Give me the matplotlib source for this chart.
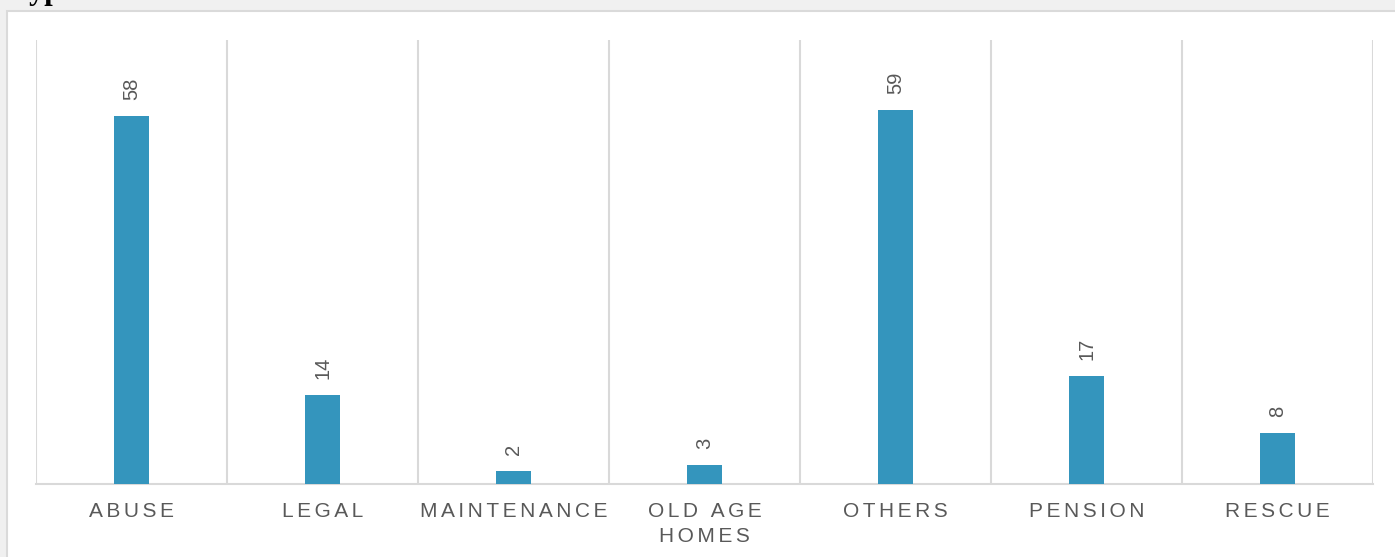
import numpy as np
import matplotlib.pyplot as plt
from matplotlib.patches import Rectangle

categories = ["ABUSE", "LEGAL", "MAINTENANCE", "OLD AGE\nHOMES", "OTHERS", "PENSION", "RESCUE"]
counts = [58, 14, 2, 3, 59, 17, 8]

BAR_COLOR = "#3495bd"
TEXT_COLOR = "#595959"
GRID_COLOR = "#d9d9d9"


def spaced(label, gap="\u200a\u200a"):
    """Fake letter spacing by putting hair spaces between characters."""
    return "\n".join(gap.join(line) for line in label.split("\n"))


fig = plt.figure(figsize=(13.95, 5.57), dpi=100)
fig.patch.set_facecolor("#f0f0f0")

# white panel behind the chart
panel = Rectangle((7 / 1395, -0.01), 1.0, 1 - 11 / 557 + 0.01, transform=fig.transFigure,
                  facecolor="white", edgecolor="#dadada", linewidth=1.5, zorder=-10)
fig.patches.append(panel)

# title cut off at the top of the picture
fig.text(12 / 1395, 1 + 1.5 / 557, "Types", family=["Liberation Serif", "DejaVu Serif"],
         fontweight="bold", fontsize=22, va="baseline", ha="left", color="black")

ax = fig.add_axes([36 / 1395, 1 - 484 / 557, (1373 - 36) / 1395, (484 - 40) / 557])
ax.set_facecolor("none")
ax.set_zorder(1)

x = np.arange(len(categories))
ax.bar(x, counts, width=0.185, color=BAR_COLOR, zorder=3)

for xi, v in zip(x, counts):
    ax.annotate(str(v), (xi, v), xytext=(0, 11.5), textcoords="offset points",
                rotation=90, ha="center", va="bottom", fontsize=14.5,
                color=TEXT_COLOR, family=["Liberation Sans", "DejaVu Sans"])

ax.set_xlim(-0.5, len(categories) - 0.5)
ax.set_ylim(0, 70)

# vertical separators between categories
for b in np.arange(-0.5, len(categories), 1.0):
    ax.axvline(b, color=GRID_COLOR, linewidth=1.5, zorder=1)

ax.set_xticks(x)
ax.set_xticklabels([spaced(c) for c in categories], fontsize=15, color=TEXT_COLOR,
                   family=["Liberation Sans", "DejaVu Sans"], linespacing=1.4)
ax.tick_params(axis="x", length=0, pad=13)
ax.set_yticks([])

for side in ["top", "right", "left"]:
    ax.spines[side].set_visible(False)
ax.spines["bottom"].set_color(GRID_COLOR)
ax.spines["bottom"].set_linewidth(1.5)

fig.savefig("out.png", dpi=100, facecolor=fig.get_facecolor())
